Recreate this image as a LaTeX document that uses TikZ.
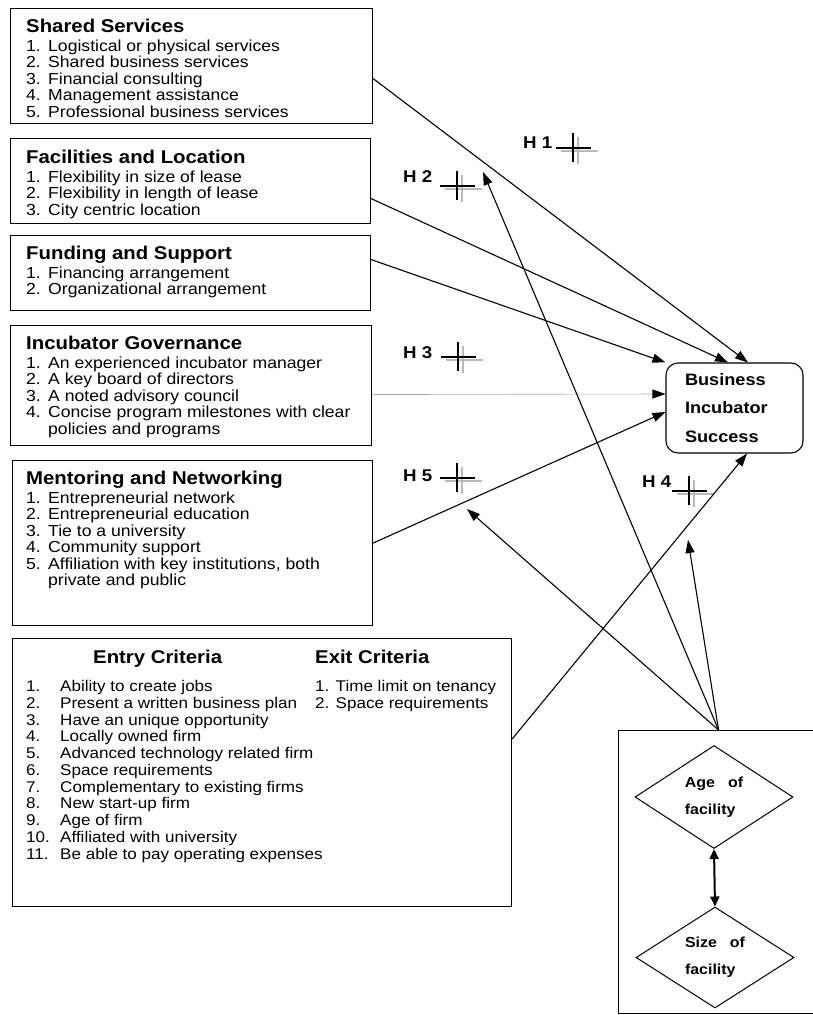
\documentclass[tikz,border=0pt]{standalone}
\usepackage{fontspec}
\setmainfont{Liberation Sans}[FakeStretch=1.1]
\usetikzlibrary{positioning, arrows.meta, shapes.geometric, calc}

\newcommand{\cathead}[1]{\multicolumn{2}{@{}l@{}}{\fontsize{18.5}{20}\selectfont\bfseries #1}\\[2pt]}

\tikzset{
  hcross/.pic={
    \draw[gray!55, line width=1.6pt] (-12,-3) -- (25,-3) (5,11) -- (5,-16);
    \draw[line width=2.2pt] (-17,0) -- (18,0) (0,15) -- (0,-14);
  }
}

\begin{document}
\begin{tikzpicture}[x=1pt, y=1pt,
    catbox/.style={draw, line width=1.1pt, inner sep=0pt, anchor=north west},
    catlist/.style={anchor=base west, inner sep=0pt, font=\fontsize{16}{16.5}\selectfont},
    arr/.style={line width=1.1pt, -{Triangle[length=13pt, width=9pt]}},
    dbl/.style={line width=2pt, {Triangle[length=10pt, width=9pt]}-{Triangle[length=10pt, width=9pt]}},
    hlabel/.style={font=\fontsize{17}{18}\selectfont\bfseries, inner sep=0pt, anchor=west},
    factor/.style={diamond, draw, line width=1pt, minimum width=158pt, inner sep=0pt,
      align=left, font=\fontsize{14.5}{27}\selectfont\bfseries}]
  \useasboundingbox (0,0) rectangle (812,-1015);

  % category boxes
  \node[catbox, minimum width=362pt, minimum height=115pt] (shared) at (10,-8) {};
  \node[catlist] (sharedtext) at (26,-32.5) {\begin{tabular}[t]{@{}p{22pt}@{}l@{}}
    \cathead{Shared Services}
    1. & Logistical or physical services\\
    2. & Shared business services\\
    3. & Financial consulting\\
    4. & Management assistance\\
    5. & Professional business services
  \end{tabular}};

  \node[catbox, minimum width=360pt, minimum height=85pt] (facil) at (10,-138) {};
  \node[catlist] (faciltext) at (26,-163.5) {\begin{tabular}[t]{@{}p{22pt}@{}l@{}}
    \cathead{Facilities and Location}
    1. & Flexibility in size of lease\\
    2. & Flexibility in length of lease\\
    3. & City centric location
  \end{tabular}};

  \node[catbox, minimum width=360pt, minimum height=75pt] (fund) at (10,-235) {};
  \node[catlist] (fundtext) at (26,-259.5) {\begin{tabular}[t]{@{}p{22pt}@{}l@{}}
    \cathead{Funding and Support}
    1. & Financing arrangement\\
    2. & Organizational arrangement
  \end{tabular}};

  \node[catbox, minimum width=361pt, minimum height=120pt] (gov) at (10,-325) {};
  \node[catlist] (govtext) at (26,-349.5) {\begin{tabular}[t]{@{}p{22pt}@{}l@{}}
    \cathead{Incubator Governance}
    1. & An experienced incubator manager\\
    2. & A key board of directors\\
    3. & A noted advisory council\\
    4. & Concise program milestones with clear\\
       & policies and programs
  \end{tabular}};

  \node[catbox, minimum width=360pt, minimum height=165pt] (mentor) at (12,-460) {};
  \node[catlist] (mentortext) at (26,-484.5) {\begin{tabular}[t]{@{}p{22pt}@{}l@{}}
    \cathead{Mentoring and Networking}
    1. & Entrepreneurial network\\
    2. & Entrepreneurial education\\
    3. & Tie to a university\\
    4. & Community support\\
    5. & Affiliation with key institutions, both\\
       & private and public
  \end{tabular}};

  % entry and exit criteria
  \node[catbox, minimum width=499pt, minimum height=268pt] (entry) at (12,-638) {};
  \node[hlabel, font=\fontsize{18.5}{20}\selectfont\bfseries, anchor=base west] (entryhead) at (93,-663.5) {Entry Criteria};
  \node[hlabel, font=\fontsize{18.5}{20}\selectfont\bfseries, anchor=base west] (exithead) at (315,-663.5) {Exit Criteria};
  \node[catlist, font=\fontsize{15.5}{16.75}\selectfont] (entrytext) at (26,-691.7) {\begin{tabular}[t]{@{}p{34pt}@{}l@{}}
    1.  & Ability to create jobs\\
    2.  & Present a written business plan\\
    3.  & Have an unique opportunity\\
    4.  & Locally owned firm\\
    5.  & Advanced technology related firm\\
    6.  & Space requirements\\
    7.  & Complementary to existing firms\\
    8.  & New start-up firm\\
    9.  & Age of firm\\
    10. & Affiliated with university\\
    11. & Be able to pay operating expenses
  \end{tabular}};
  \node[catlist, font=\fontsize{15.5}{16.75}\selectfont] (exittext) at (315,-691.7) {\begin{tabular}[t]{@{}l@{}}
    1. Time limit on tenancy\\
    2. Space requirements
  \end{tabular}};

  % outcome
  \node[draw, line width=1.1pt, rounded corners=12pt, minimum width=137pt, minimum height=90pt,
    inner xsep=19pt, text width=99pt, align=left, font=\fontsize{16.5}{28.5}\selectfont\bfseries] (bis) at (734.5,-408) {Business\\Incubator\\Success};

  % facility box
  \node[catbox, minimum width=196pt, minimum height=283pt] (fac) at (618,-730) {};
  \node[factor, minimum height=103pt] (age) at (714,-797) {Age\hspace{13pt}of\\facility};
  \node[factor, minimum height=101pt] (size) at (715,-957.5) {Size\hspace{13pt}of\\facility};
  \draw[dbl] (age.south) -- (size.north);

  % hypotheses
  \node[hlabel] (h1) at (523,-143) {H 1};
  \node[hlabel] (h2) at (403,-177) {H 2};
  \node[hlabel] (h3) at (403,-353) {H 3};
  \node[hlabel] (h5) at (403,-476) {H 5};
  \node[hlabel] (h4) at (642,-482) {H 4};
  \pic at (573,-148) {hcross};
  \pic at (457,-186) {hcross};
  \pic at (458,-357) {hcross};
  \pic at (457,-478) {hcross};
  \pic at (689,-491) {hcross};

  % paths to success
  \draw[arr] ([yshift=-12.5pt]shared.east) -- ([xshift=13.5pt]bis.north);
  \draw[arr] ([yshift=-17.5pt]facil.east) -- ([xshift=-6.5pt]bis.north);
  \draw[arr] ([yshift=13.5pt]fund.east) -- (bis.north west);
  \draw[arr, gray!70, line width=0.6pt, -{Triangle[length=13pt, width=9pt, color=black]}] ([yshift=-9pt]gov.east) -- ([yshift=14pt]bis.west);
  \draw[arr] (mentor.east) -- ([yshift=-4pt]bis.west);
  \draw[arr] ([yshift=33.5pt]entry.east) -- ([xshift=12.5pt]bis.south);

  % facility effects
  \coordinate (fsrc) at ([xshift=2pt]fac.north);
  \coordinate (h2tip) at (483,-172);
  \coordinate (h5tip) at (467,-509);
  \coordinate (h4tip) at (688,-540);
  \draw[arr] (fsrc) -- (h2tip);
  \draw[arr] (fsrc) -- (h5tip);
  \draw[arr] (fsrc) -- (h4tip);
\end{tikzpicture}
\end{document}
